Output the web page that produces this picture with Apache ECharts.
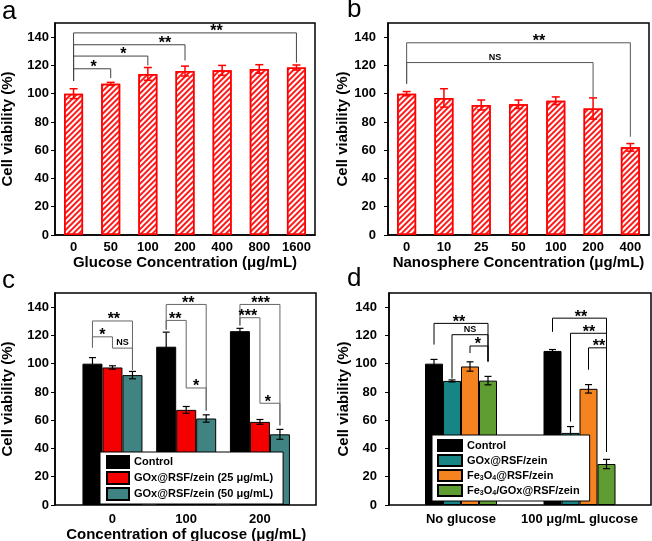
<!DOCTYPE html>
<html><head><meta charset="utf-8">
<script src="https://cdn.jsdelivr.net/npm/echarts@6/dist/echarts.min.js"></script>
<style>html,body{margin:0;padding:0;background:#fff}#c{width:652px;height:541px}</style>
</head><body><div id="c"></div>
<script>
// ---------- data ----------
const yTicks = [0,20,40,60,80,100,120,140];

const catsA = ['0','50','100','200','400','800','1600'];
const valA  = [100,107,114,116,116.5,117.5,118.5];
const errA  = [3.5,1,4.5,3.5,3.5,3,1.8];
// [fromCat, toCat, lineY, leftEndY, rightEndY, label, labelPos (category units)]
const sigA = [
  [0,1,117.6,109,111,'*',0.54],
  [0,2,126.6,109,120,'*',1.34],
  [0,3,134.6,109,123.5,'**',2.46],
  [0,6,143,109,122,'**',3.85]
];

const catsB = ['0','10','25','50','100','200','400'];
const valB  = [100,97,92,92.5,95,89.5,62];
const errB  = [1.5,6.5,3.5,3,2.7,7.5,2.7];
const sigB = [
  [0,5,122,107,97.5,'NS',2.37],
  [0,6,136,107,69.5,'**',3.55]
];

const catsC = ['0','100','200'];
const namesC = ['Control','GOx@RSF/zein (25 μg/mL)','GOx@RSF/zein (50 μg/mL)'];
const valC0 = [100,112,123];   const errC0 = [4.3,10.3,2];
const valC1 = [97.3,67.3,58.8]; const errC1 = [1.2,2.4,1.7];
const valC2 = [91.9,61.2,50];   const errC2 = [2.6,2.6,3.5];
// [cat, fromSeries, toSeries, lineY, leftEndY, rightEndY, label, labelOffset (bar widths from group centre)]
const sigC = [
  [0,0,2,130.2,111.4,95.5,'**',0.07],
  [0,0,1,119,111.4,111,'*',-0.5],
  [0,1,2,111,111,95.5,'NS',0.5],
  [1,0,2,141.9,124,66.8,'**',0.1],
  [1,0,1,130.6,124,82.8,'**',-0.55],
  [1,1,2,82.8,82.8,66.8,'*',0.5],
  [2,0,2,141.9,127,56.3,'***',0.03],
  [2,0,1,132.5,127,72,'***',-0.6],
  [2,1,2,72,72,56.3,'*',0.4]
];

const catsD = ['No glucose','100 μg/mL glucose'];
const namesD = ['Control','GOx@RSF/zein','Fe3O4@RSF/zein','Fe3O4/GOx@RSF/zein'];
const valD0 = [100,109];  const errD0 = [3,1];
const valD1 = [87.8,51];  const errD1 = [0.7,4.5];
const valD2 = [98,82.2];  const errD2 = [3.3,3];
const valD3 = [88,29];    const errD3 = [3,3.3];
const sigD = [
  [0,0,3,128.5,113.5,101.5,'**',-0.11],
  [0,1,3,120.5,89.5,101.5,'NS',0.5],
  [0,2,3,112.5,107.5,101.5,'*',0.93],
  [1,0,3,132.2,122.5,37.6,'**',0.08],
  [1,1,3,121.5,59,37.6,'**',0.53],
  [1,2,3,111.2,95.7,37.6,'**',1.08]
];

// ---------- helpers ----------
const FF = '"Liberation Sans", Arial, sans-serif';
const lbl = {fontFamily:FF, fontWeight:'bold', fontSize:13, color:'#000', interval:0, hideOverlap:false};

function errSeries(xi, yi, vals, errs, offset, color, lw, cap) {
  return {
    type:'custom', xAxisIndex:xi, yAxisIndex:yi, z:4, silent:true,
    data: vals.map((v,i)=>[i, v, errs[i]]),
    renderItem:(params, api)=>{
      const i = api.value(0), v = api.value(1), e = api.value(2);
      const p = api.coord([i, v+e]), q = api.coord([i, v-e]);
      const x = p[0] + offset, w = cap/2;
      const st = {stroke:color, lineWidth:lw};
      return {type:'group', children:[
        {type:'line', shape:{x1:x,y1:p[1],x2:x,y2:q[1]}, style:st},
        {type:'line', shape:{x1:x-w,y1:p[1],x2:x+w,y2:p[1]}, style:st},
        {type:'line', shape:{x1:x-w,y1:q[1],x2:x+w,y2:q[1]}, style:st}
      ]};
    }
  };
}

function bracketSeries(xi, yi, sig, grouped, n, barW, lineColor) {
  return {
    type:'custom', xAxisIndex:xi, yAxisIndex:yi, z:5, silent:true,
    data: sig.map(s=>[s[0], grouped ? s[3] : s[2]]),
    renderItem:(params, api)=>{
      const s = sig[params.dataIndex];
      let xL, xR, yLine, yL, yR, label, lx;
      if (grouped) {
        const cx = api.coord([s[0], 0])[0];
        const off = k => cx + (k - (n-1)/2)*barW;
        xL = off(s[1]); xR = off(s[2]); yLine = s[3]; yL = s[4]; yR = s[5]; label = s[6];
        lx = cx + s[7]*barW;
      } else {
        xL = api.coord([s[0],0])[0]; xR = api.coord([s[1],0])[0];
        yLine = s[2]; yL = s[3]; yR = s[4]; label = s[5];
        const bw = api.size([1,0])[0];
        lx = api.coord([0,0])[0] + s[6]*bw;
      }
      const Y = v => api.coord([s[0], v])[1];
      const isNS = label === 'NS';
      return {type:'group', children:[
        {type:'polyline', shape:{points:[[xL,Y(yL)],[xL,Y(yLine)],[xR,Y(yLine)],[xR,Y(yR)]]},
          style:{stroke:lineColor, lineWidth:1, fill:null}},
        {type:'text', x:lx, y: Y(yLine)-1,
          style:{text:label, fill:'#000', align:'center',
            verticalAlign: isNS ? 'bottom' : 'middle',
            font: isNS ? 'bold 9px ' + FF : 'bold 16px ' + FF}}
      ]};
    }
  };
}

const nameStyle = {fontFamily:FF, fontWeight:'bold', fontSize:15, color:'#000'};
function yAxisVis(gi, margin, nameGap) {
  return {
    gridIndex:gi, type:'value', min:0, max:150, interval:20,
    axisLine:{show:true, lineStyle:{color:'#000', width:1.5}},
    axisTick:{show:true, inside:false, length:4, lineStyle:{color:'#000', width:1}, customValues:yTicks},
    axisLabel:{fontFamily:FF, fontWeight:'bold', fontSize:13, color:'#000', margin:margin, customValues:yTicks},
    splitLine:{show:false},
    name:'Cell viability (%)', nameLocation:'middle', nameGap:nameGap,
    nameTextStyle:nameStyle
  };
}
function yAxisHidden(gi) {
  return {gridIndex:gi, type:'value', min:0, max:150, show:false};
}
const hatch = {
  color:'#fff', borderColor:'#ff0000', borderWidth:1.5,
  decal:{symbol:'rect', symbolSize:1, dashArrayX:[1,0], dashArrayY:[1.6,1.7], rotation:-Math.PI/4, color:'#ff1a1a'}
};
const gridBox = {show:true, borderColor:'#000', borderWidth:1.5, backgroundColor:'transparent'};
const G = {outerBoundsMode:'none', containLabel:false};

const option = {
  animation:false,
  backgroundColor:'#fff',
  textStyle:{fontFamily:FF},
  grid:[
    Object.assign({left:55, top:23, width:260, height:212}, gridBox, G),
    Object.assign({left:388, top:23, width:261, height:212}, gridBox, G),
    Object.assign({left:55, top:293, width:261, height:212}, gridBox, G),
    Object.assign({left:75.6, top:293, width:221.2, height:212}, G),
    Object.assign({left:389, top:293, width:262, height:212}, gridBox, G),
    Object.assign({left:401.75, top:293, width:237, height:212}, G)
  ],
  xAxis:[
    {gridIndex:0, type:'category', data:catsA,
      axisLine:{lineStyle:{color:'#000', width:1.5}},
      axisTick:{inside:true, length:3, alignWithLabel:true, interval:0, lineStyle:{color:'#000'}},
      axisLabel:Object.assign({margin:6}, lbl),
      name:'Glucose Concentration (μg/mL)', nameLocation:'middle', nameGap:20, nameTextStyle:nameStyle},
    {gridIndex:1, type:'category', data:catsB,
      axisLine:{lineStyle:{color:'#000', width:1.5}},
      axisTick:{inside:true, length:3, alignWithLabel:true, interval:0, lineStyle:{color:'#000'}},
      axisLabel:Object.assign({margin:6}, lbl),
      name:'Nanosphere Concentration (μg/mL)', nameLocation:'middle', nameGap:20, nameTextStyle:nameStyle},
    {gridIndex:2, type:'value', min:0, max:1, show:false},
    {gridIndex:3, type:'category', data:catsC,
      axisLine:{show:false}, axisTick:{show:false},
      axisLabel:Object.assign({margin:8}, lbl),
      name:'Concentration of glucose (μg/mL)', nameLocation:'middle', nameGap:20, nameTextStyle:nameStyle},
    {gridIndex:4, type:'value', min:0, max:1, show:false},
    {gridIndex:5, type:'category', data:catsD,
      axisLine:{show:false}, axisTick:{show:false},
      axisLabel:Object.assign({margin:8}, lbl)}
  ],
  yAxis:[
    yAxisVis(0, 6, 40),
    yAxisVis(1, 12, 37),
    yAxisVis(2, 6, 40),
    yAxisHidden(3),
    yAxisVis(4, 12, 38),
    yAxisHidden(5)
  ],
  legend:[
    {left:100, top:452, orient:'vertical', selectedMode:false, z:20,
      data:namesC, icon:'rect', itemWidth:22, itemHeight:12, itemGap:2,
      backgroundColor:'#fff', borderColor:'#000', borderWidth:1, padding:[3,10,3,6],
      textStyle:{fontFamily:FF, fontWeight:'bold', fontSize:11, color:'#000'}},
    {left:432, top:435, orient:'vertical', selectedMode:false, z:20,
      data:namesD, icon:'rect', itemWidth:24, itemHeight:11, itemGap:2,
      backgroundColor:'#fff', borderColor:'#000', borderWidth:1, padding:[4,10,4,5],
      formatter: n => n.replace(/(\d)/g, '{s|$1}'),
      textStyle:{fontFamily:FF, fontWeight:'bold', fontSize:11, color:'#000',
        rich:{s:{fontFamily:FF, fontWeight:'bold', fontSize:7, color:'#000', verticalAlign:'bottom', padding:[5,0,0,0]}}}}
  ],
  graphic:[
    {type:'text', left:2, top:-1, style:{text:'a', font:'26px '+FF, fill:'#000'}},
    {type:'text', left:347, top:-3, style:{text:'b', font:'26px '+FF, fill:'#000'}},
    {type:'text', left:2, top:268, style:{text:'c', font:'26px '+FF, fill:'#000'}},
    {type:'text', left:347, top:266, style:{text:'d', font:'26px '+FF, fill:'#000'}}
  ],
  series:[
    {type:'bar', xAxisIndex:0, yAxisIndex:0, data:valA, barWidth:19, itemStyle:hatch, z:2},
    errSeries(0,0,valA,errA,0,'#ff0000',1.5,8),
    bracketSeries(0,0,sigA,false,1,0,'#444'),

    {type:'bar', xAxisIndex:1, yAxisIndex:1, data:valB, barWidth:19, itemStyle:hatch, z:2},
    errSeries(1,1,valB,errB,0,'#ff0000',1.5,8),
    bracketSeries(1,1,sigB,false,1,0,'#555'),

    {type:'bar', name:namesC[0], xAxisIndex:3, yAxisIndex:3, data:valC0, barWidth:20, barGap:'0%',
      itemStyle:{color:'#000', borderColor:'#000', borderWidth:1}, z:2},
    {type:'bar', name:namesC[1], xAxisIndex:3, yAxisIndex:3, data:valC1, barWidth:20, barGap:'0%',
      itemStyle:{color:'#f40000', borderColor:'#000', borderWidth:1}, z:2},
    {type:'bar', name:namesC[2], xAxisIndex:3, yAxisIndex:3, data:valC2, barWidth:20, barGap:'0%',
      itemStyle:{color:'#3f8482', borderColor:'#000', borderWidth:1}, z:2},
    errSeries(3,3,valC0,errC0,-20,'#000',1.2,7),
    errSeries(3,3,valC1,errC1,0,'#000',1.2,7),
    errSeries(3,3,valC2,errC2,20,'#000',1.2,7),
    bracketSeries(3,3,sigC,true,3,20,'#666'),

    {type:'bar', name:namesD[0], xAxisIndex:5, yAxisIndex:5, data:valD0, barWidth:18, barGap:'0%',
      itemStyle:{color:'#000', borderColor:'#000', borderWidth:1}, z:2},
    {type:'bar', name:namesD[1], xAxisIndex:5, yAxisIndex:5, data:valD1, barWidth:18, barGap:'0%',
      itemStyle:{color:'#178583', borderColor:'#000', borderWidth:1}, z:2},
    {type:'bar', name:namesD[2], xAxisIndex:5, yAxisIndex:5, data:valD2, barWidth:18, barGap:'0%',
      itemStyle:{color:'#f5831f', borderColor:'#000', borderWidth:1}, z:2},
    {type:'bar', name:namesD[3], xAxisIndex:5, yAxisIndex:5, data:valD3, barWidth:18, barGap:'0%',
      itemStyle:{color:'#5f9c31', borderColor:'#000', borderWidth:1}, z:2},
    errSeries(5,5,valD0,errD0,-27,'#000',1.2,7),
    errSeries(5,5,valD1,errD1,-9,'#000',1.2,7),
    errSeries(5,5,valD2,errD2,9,'#000',1.2,7),
    errSeries(5,5,valD3,errD3,27,'#000',1.2,7),
    bracketSeries(5,5,sigD,true,4,18,'#000')
  ]
};
const chart = echarts.init(document.getElementById('c'), null, {renderer:'canvas'});
chart.setOption(option);
</script>
</body></html>
